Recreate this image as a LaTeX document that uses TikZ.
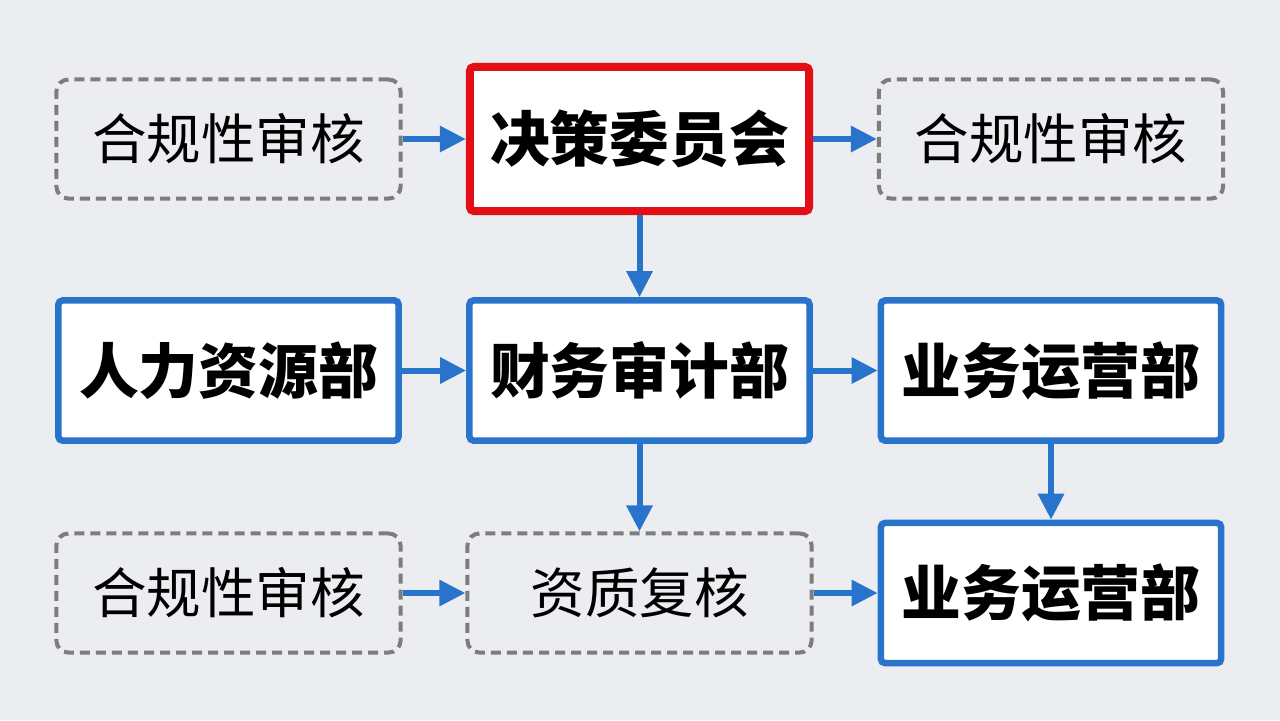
\documentclass[tikz,border=0pt]{standalone}
\usepackage{fontspec}
\usepackage{xcolor}
\usepackage{tikz}
\usetikzlibrary{arrows.meta}
\newfontfamily\cjk{Noto Sans CJK SC}
\definecolor{bgray}{RGB}{236,237,240}
\definecolor{lineblue}{RGB}{40,116,205}
\definecolor{linered}{RGB}{226,16,22}
\definecolor{dashgray}{RGB}{125,125,125}

\begin{document}
\begin{tikzpicture}[x=0.01cm,y=-0.01cm,
	solidbox/.style={draw=lineblue, fill=white, line width=0.065cm, rounded corners=0.04cm,
		minimum width=3.40cm, minimum height=1.40cm, inner sep=0pt,
		font=\cjk\bfseries\fontsize{17}{20}\selectfont},
	redbox/.style={solidbox, draw=linered, line width=0.08cm, minimum width=3.39cm, minimum height=1.44cm},
	dashbox/.style={draw=dashgray, line width=0.04cm, dash pattern=on 0.1cm off 0.06cm, rounded corners=0.12cm,
		minimum width=3.44cm, minimum height=1.19cm, inner sep=0pt,
		font=\cjk\fontsize{15.5}{18}\selectfont},
	flow/.style={draw=lineblue, line width=0.06cm, -{Triangle[length=0.26cm,width=0.25cm]}}]
	\fill[bgray] (0,0) rectangle (1280,720);
	\useasboundingbox (0,0) rectangle (1280,720);
	%%% top row
	\node[dashbox](crevA) at (228.5,139) {合规性审核};
	\node[redbox](board) at (639.5,139) {决策委员会};
	\node[dashbox](crevB) at (1051,139) {合规性审核};
	%%% middle row
	\node[solidbox](hr) at (228.5,370.5) {人力资源部};
	\node[solidbox](audit) at (639.5,370.5) {财务审计部};
	\node[solidbox](opsA) at (1051,370.5) {业务运营部};
	%%% bottom row
	\node[dashbox](crevC) at (228.5,593) {合规性审核};
	\node[dashbox](qual) at (639.5,593) {资质复核};
	\node[solidbox](opsB) at (1051,593) {业务运营部};
	
	\draw[flow] (crevA) -- (board);
	\draw[flow] (board) -- (crevB);
	\draw[flow] (board) -- (audit);
	\draw[flow] (hr) -- (audit);
	\draw[flow] (audit) -- (opsA);
	\draw[flow] (audit) -- (qual);
	\draw[flow] (opsA) -- (opsB);
	\draw[flow] (crevC) -- (qual);
	\draw[flow] (qual) -- (opsB);
\end{tikzpicture}
\end{document}
